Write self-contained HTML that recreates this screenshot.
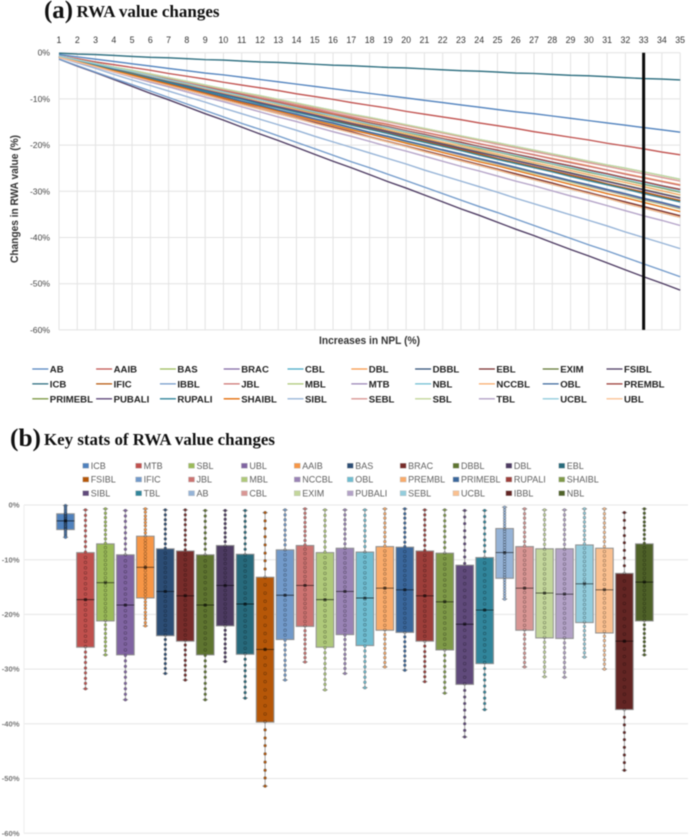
<!DOCTYPE html>
<html lang="en">
<head>
<meta charset="utf-8">
<title>RWA value changes</title>
<style>
html,body{margin:0;padding:0;background:#fff;width:690px;height:838px;overflow:hidden}
svg{display:block;filter:blur(0.5px)}
text{font-family:"Liberation Sans",sans-serif}
.ttl{font-family:"Liberation Serif",serif;font-weight:700;fill:#111}
</style>
</head>
<body>
<svg id="figure" xmlns="http://www.w3.org/2000/svg" width="690" height="838" viewBox="0 0 690 838">
  <text class="ttl" x="44" y="18" font-size="25" textLength="29" lengthAdjust="spacingAndGlyphs">(a)</text>
  <text class="ttl" x="76.5" y="17" font-size="17" textLength="143" lengthAdjust="spacingAndGlyphs">RWA value changes</text>
  <text class="ttl" x="10" y="446" font-size="25" textLength="31" lengthAdjust="spacingAndGlyphs">(b)</text>
  <text class="ttl" x="44" y="445" font-size="17" textLength="231" lengthAdjust="spacingAndGlyphs">Key stats of RWA value changes</text>
  <text transform="translate(18,199) rotate(-90)" text-anchor="middle" font-size="11" font-weight="700" fill="#333" textLength="128" lengthAdjust="spacingAndGlyphs">Changes in RWA value (%)</text>
  <text x="369.5" y="344" text-anchor="middle" font-size="11" font-weight="700" fill="#333" textLength="101" lengthAdjust="spacingAndGlyphs">Increases in NPL (%)</text>
  <g id="line-chart"></g>
  <g id="line-legend"></g>
  <g id="box-legend"></g>
  <g id="box-chart"></g>
</svg>
<script>
const npl = [1,2,3,4,5,6,7,8,9,10,11,12,13,14,15,16,17,18,19,20,21,22,23,24,25,26,27,28,29,30,31,32,33,34,35];
const lineTicks = [0,-10,-20,-30,-40,-50,-60];
const boxTicks = [0,-10,-20,-30,-40,-50,-60];

const AB = [-0.4,-0.9,-1.4,-1.9,-2.4,-2.9,-3.4,-3.9,-4.4,-4.8,-5.3,-5.8,-6.3,-6.8,-7.3,-7.8,-8.3,-8.8,-9.3,-9.8,-10.3,-10.8,-11.3,-11.8,-12.3,-12.8,-13.2,-13.7,-14.2,-14.7,-15.2,-15.7,-16.2,-16.7,-17.2];
const AAIB = [-0.7,-1.3,-2.0,-2.6,-3.2,-3.8,-4.5,-5.1,-5.7,-6.4,-7.0,-7.6,-8.2,-8.9,-9.5,-10.1,-10.8,-11.4,-12.0,-12.7,-13.3,-13.9,-14.5,-15.2,-15.8,-16.4,-17.1,-17.7,-18.3,-18.9,-19.6,-20.2,-20.8,-21.5,-22.1];
const BAS = [-0.9,-1.8,-2.7,-3.5,-4.4,-5.3,-6.2,-7.1,-7.9,-8.8,-9.7,-10.6,-11.5,-12.3,-13.2,-14.1,-15.0,-15.8,-16.7,-17.6,-18.5,-19.4,-20.2,-21.1,-22.0,-22.9,-23.8,-24.6,-25.5,-26.4,-27.3,-28.1,-29.0,-29.9,-30.8];
const BRAC = [-0.9,-1.8,-2.7,-3.6,-4.6,-5.5,-6.4,-7.3,-8.2,-9.1,-10.0,-11.0,-11.9,-12.8,-13.7,-14.6,-15.5,-16.5,-17.4,-18.3,-19.2,-20.1,-21.0,-21.9,-22.9,-23.8,-24.7,-25.6,-26.5,-27.4,-28.4,-29.3,-30.2,-31.1,-32.0];
const CBL = [-0.7,-1.6,-2.4,-3.3,-4.1,-5.0,-5.8,-6.7,-7.5,-8.4,-9.2,-10.1,-10.9,-11.8,-12.6,-13.5,-14.3,-15.2,-16.0,-16.9,-17.7,-18.6,-19.4,-20.3,-21.1,-22.0,-22.8,-23.7,-24.5,-25.4,-26.2,-27.1,-27.9,-28.8,-29.6];
const DBL = [-1.0,-1.8,-2.6,-3.4,-4.2,-5.1,-5.9,-6.7,-7.5,-8.3,-9.1,-9.9,-10.7,-11.6,-12.4,-13.2,-14.0,-14.8,-15.6,-16.4,-17.2,-18.1,-18.9,-19.7,-20.5,-21.3,-22.1,-22.9,-23.7,-24.5,-25.4,-26.2,-27.0,-27.8,-28.6];
const DBBL = [-1.0,-2.0,-3.0,-4.1,-5.1,-6.1,-7.1,-8.1,-9.1,-10.2,-11.2,-12.2,-13.2,-14.2,-15.3,-16.3,-17.3,-18.3,-19.3,-20.3,-21.4,-22.4,-23.4,-24.4,-25.4,-26.5,-27.5,-28.5,-29.5,-30.5,-31.5,-32.6,-33.6,-34.6,-35.6];
const EBL = [-1.0,-2.0,-3.0,-4.0,-5.0,-6.0,-7.1,-8.1,-9.1,-10.1,-11.1,-12.1,-13.1,-14.1,-15.1,-16.1,-17.1,-18.2,-19.2,-20.2,-21.2,-22.2,-23.2,-24.2,-25.2,-26.2,-27.2,-28.2,-29.3,-30.3,-31.3,-32.3,-33.3,-34.3,-35.3];
const EXIM = [-0.9,-1.8,-2.7,-3.6,-4.5,-5.4,-6.3,-7.2,-8.1,-9.0,-9.9,-10.8,-11.7,-12.6,-13.5,-14.4,-15.3,-16.1,-17.0,-17.9,-18.8,-19.7,-20.6,-21.5,-22.4,-23.3,-24.2,-25.1,-26.0,-26.9,-27.8,-28.7,-29.6,-30.5,-31.4];
const FSIBL = [-1.4,-2.9,-4.3,-5.8,-7.3,-8.8,-10.2,-11.7,-13.2,-14.6,-16.1,-17.6,-19.0,-20.5,-22.0,-23.5,-24.9,-26.4,-27.9,-29.3,-30.8,-32.3,-33.8,-35.2,-36.7,-38.2,-39.6,-41.1,-42.6,-44.0,-45.5,-47.0,-48.5,-49.9,-51.4];
const ICB = [-0.1,-0.3,-0.4,-0.6,-0.8,-1.0,-1.1,-1.3,-1.5,-1.6,-1.8,-2.0,-2.1,-2.3,-2.5,-2.7,-2.8,-3.0,-3.2,-3.3,-3.5,-3.7,-3.9,-4.0,-4.2,-4.4,-4.5,-4.7,-4.9,-5.0,-5.2,-5.4,-5.6,-5.7,-5.9];
const IFIC = [-0.9,-1.8,-2.7,-3.6,-4.6,-5.5,-6.4,-7.3,-8.2,-9.1,-10.0,-11.0,-11.9,-12.8,-13.7,-14.6,-15.5,-16.5,-17.4,-18.3,-19.2,-20.1,-21.0,-21.9,-22.9,-23.8,-24.7,-25.6,-26.5,-27.4,-28.4,-29.3,-30.2,-31.1,-32.0];
const IBBL = [-1.4,-2.8,-4.2,-5.6,-6.9,-8.3,-9.7,-11.1,-12.5,-13.9,-15.3,-16.6,-18.0,-19.4,-20.8,-22.2,-23.6,-24.9,-26.3,-27.7,-29.1,-30.5,-31.9,-33.3,-34.6,-36.0,-37.4,-38.8,-40.2,-41.6,-42.9,-44.3,-45.7,-47.1,-48.5];
const JBL = [-0.7,-1.5,-2.3,-3.2,-4.0,-4.8,-5.6,-6.5,-7.3,-8.1,-8.9,-9.8,-10.6,-11.4,-12.2,-13.1,-13.9,-14.7,-15.5,-16.4,-17.2,-18.0,-18.8,-19.7,-20.5,-21.3,-22.1,-23.0,-23.8,-24.6,-25.4,-26.3,-27.1,-27.9,-28.7];
const MBL = [-0.9,-1.9,-2.8,-3.8,-4.8,-5.7,-6.7,-7.7,-8.6,-9.6,-10.6,-11.5,-12.5,-13.5,-14.5,-15.4,-16.4,-17.4,-18.3,-19.3,-20.3,-21.2,-22.2,-23.2,-24.1,-25.1,-26.1,-27.0,-28.0,-29.0,-29.9,-30.9,-31.9,-32.8,-33.8];
const MTB = [-0.9,-1.9,-2.8,-3.8,-4.7,-5.7,-6.7,-7.6,-8.6,-9.6,-10.5,-11.5,-12.4,-13.4,-14.4,-15.3,-16.3,-17.3,-18.2,-19.2,-20.1,-21.1,-22.1,-23.0,-24.0,-24.9,-25.9,-26.9,-27.8,-28.8,-29.8,-30.7,-31.7,-32.6,-33.6];
const NBL = [-0.7,-1.5,-2.3,-3.1,-3.8,-4.6,-5.4,-6.2,-7.0,-7.8,-8.6,-9.3,-10.1,-10.9,-11.7,-12.5,-13.3,-14.0,-14.8,-15.6,-16.4,-17.2,-18.0,-18.8,-19.5,-20.3,-21.1,-21.9,-22.7,-23.5,-24.3,-25.0,-25.8,-26.6,-27.4];
const NCCBL = [-0.9,-1.8,-2.7,-3.5,-4.4,-5.3,-6.2,-7.1,-7.9,-8.8,-9.7,-10.6,-11.5,-12.3,-13.2,-14.1,-15.0,-15.8,-16.7,-17.6,-18.5,-19.4,-20.2,-21.1,-22.0,-22.9,-23.8,-24.6,-25.5,-26.4,-27.3,-28.1,-29.0,-29.9,-30.8];
const OBL = [-0.9,-1.9,-2.8,-3.8,-4.7,-5.7,-6.6,-7.6,-8.6,-9.5,-10.5,-11.4,-12.4,-13.3,-14.3,-15.2,-16.2,-17.2,-18.1,-19.1,-20.0,-21.0,-21.9,-22.9,-23.8,-24.8,-25.8,-26.7,-27.7,-28.6,-29.6,-30.5,-31.5,-32.4,-33.4];
const PREMBL = [-0.7,-1.6,-2.4,-3.3,-4.1,-5.0,-5.8,-6.7,-7.5,-8.4,-9.2,-10.1,-10.9,-11.8,-12.6,-13.5,-14.3,-15.2,-16.0,-16.9,-17.7,-18.6,-19.4,-20.3,-21.1,-22.0,-22.8,-23.7,-24.5,-25.4,-26.2,-27.1,-27.9,-28.8,-29.6];
const PRIMEBL = [-0.7,-1.6,-2.4,-3.3,-4.2,-5.0,-5.9,-6.8,-7.6,-8.5,-9.4,-10.2,-11.1,-12.0,-12.9,-13.7,-14.6,-15.5,-16.3,-17.2,-18.1,-18.9,-19.8,-20.7,-21.5,-22.4,-23.3,-24.1,-25.0,-25.9,-26.7,-27.6,-28.5,-29.3,-30.2];
const PUBALI = [-0.9,-1.8,-2.7,-3.6,-4.5,-5.4,-6.3,-7.2,-8.1,-9.0,-9.9,-10.8,-11.7,-12.6,-13.5,-14.4,-15.3,-16.2,-17.1,-18.0,-18.9,-19.8,-20.7,-21.6,-22.5,-23.4,-24.3,-25.2,-26.1,-27.0,-27.9,-28.8,-29.7,-30.6,-31.5];
const RUPALI = [-0.9,-1.8,-2.7,-3.7,-4.6,-5.5,-6.4,-7.4,-8.3,-9.2,-10.1,-11.1,-12.0,-12.9,-13.8,-14.8,-15.7,-16.6,-17.5,-18.5,-19.4,-20.3,-21.2,-22.2,-23.1,-24.0,-24.9,-25.8,-26.8,-27.7,-28.6,-29.5,-30.5,-31.4,-32.3];
const SHAIBL = [-0.9,-1.9,-2.9,-3.9,-4.8,-5.8,-6.8,-7.8,-8.8,-9.8,-10.8,-11.7,-12.7,-13.7,-14.7,-15.7,-16.7,-17.6,-18.6,-19.6,-20.6,-21.6,-22.6,-23.6,-24.5,-25.5,-26.5,-27.5,-28.5,-29.5,-30.5,-31.4,-32.4,-33.4,-34.4];
const SIBL = [-1.0,-2.2,-3.4,-4.7,-5.9,-7.1,-8.3,-9.5,-10.7,-12.0,-13.2,-14.4,-15.6,-16.8,-18.1,-19.3,-20.5,-21.7,-22.9,-24.1,-25.4,-26.6,-27.8,-29.0,-30.2,-31.5,-32.7,-33.9,-35.1,-36.3,-37.5,-38.8,-40.0,-41.2,-42.4];
const SEBL = [-0.7,-1.5,-2.3,-3.1,-3.9,-4.7,-5.5,-6.3,-7.1,-7.9,-8.7,-9.5,-10.3,-11.1,-11.9,-12.7,-13.5,-14.2,-15.0,-15.8,-16.6,-17.4,-18.2,-19.0,-19.8,-20.6,-21.4,-22.2,-23.0,-23.8,-24.6,-25.4,-26.2,-27.0,-27.8];
const SBL = [-0.7,-1.5,-2.3,-3.1,-3.8,-4.6,-5.4,-6.2,-7.0,-7.8,-8.6,-9.3,-10.1,-10.9,-11.7,-12.5,-13.3,-14.0,-14.8,-15.6,-16.4,-17.2,-18.0,-18.8,-19.5,-20.3,-21.1,-21.9,-22.7,-23.5,-24.3,-25.0,-25.8,-26.6,-27.4];
const TBL = [-1.0,-2.1,-3.1,-4.2,-5.3,-6.4,-7.4,-8.5,-9.6,-10.6,-11.7,-12.8,-13.9,-14.9,-16.0,-17.1,-18.1,-19.2,-20.3,-21.3,-22.4,-23.5,-24.6,-25.6,-26.7,-27.8,-28.8,-29.9,-31.0,-32.0,-33.1,-34.2,-35.3,-36.3,-37.4];
const UCBL = [-0.7,-1.6,-2.4,-3.3,-4.1,-5.0,-5.9,-6.7,-7.6,-8.5,-9.3,-10.2,-11.0,-11.9,-12.8,-13.6,-14.5,-15.4,-16.2,-17.1,-17.9,-18.8,-19.7,-20.5,-21.4,-22.2,-23.1,-24.0,-24.8,-25.7,-26.6,-27.4,-28.3,-29.1,-30.0];
const UBL = [-1.0,-2.0,-3.0,-4.1,-5.1,-6.1,-7.1,-8.1,-9.1,-10.2,-11.2,-12.2,-13.2,-14.2,-15.3,-16.3,-17.3,-18.3,-19.3,-20.3,-21.4,-22.4,-23.4,-24.4,-25.4,-26.5,-27.5,-28.5,-29.5,-30.5,-31.5,-32.6,-33.6,-34.6,-35.6];

const lineBanks = ["AB","AAIB","BAS","BRAC","CBL","DBL","DBBL","EBL","EXIM","FSIBL","ICB","IFIC","IBBL","JBL","MBL","MTB","NBL","NCCBL","OBL","PREMBL","PRIMEBL","PUBALI","RUPALI","SHAIBL","SIBL","SEBL","SBL","TBL","UCBL","UBL"];
const lineSeries = [AB,AAIB,BAS,BRAC,CBL,DBL,DBBL,EBL,EXIM,FSIBL,ICB,IFIC,IBBL,JBL,MBL,MTB,NBL,NCCBL,OBL,PREMBL,PRIMEBL,PUBALI,RUPALI,SHAIBL,SIBL,SEBL,SBL,TBL,UCBL,UBL];

const boxBanks = ["ICB","MTB","SBL","UBL","AAIB","BAS","BRAC","DBBL","DBL","EBL","FSIBL","IFIC","JBL","MBL","NCCBL","OBL","PREMBL","PRIMEBL","RUPALI","SHAIBL","SIBL","TBL","AB","CBL","EXIM","PUBALI","SEBL","UCBL","IBBL","NBL"];
const boxSeries = [ICB,MTB,SBL,UBL,AAIB,BAS,BRAC,DBBL,DBL,EBL,FSIBL,IFIC,JBL,MBL,NCCBL,OBL,PREMBL,PRIMEBL,RUPALI,SHAIBL,SIBL,TBL,AB,CBL,EXIM,PUBALI,SEBL,UCBL,IBBL,NBL];
const boxUpper = [-1.6,-8.7,-7.1,-9.1,-5.7,-8.0,-8.4,-9.1,-7.4,-9.0,-13.2,-8.2,-7.4,-8.7,-7.9,-8.6,-7.6,-7.7,-8.4,-8.8,-11.0,-9.6,-4.3,-7.6,-8.0,-8.0,-7.3,-7.9,-12.5,-7.1];
const boxMedian = [-2.9,-17.3,-14.2,-18.3,-11.4,-15.8,-16.6,-18.3,-14.7,-18.1,-26.4,-16.5,-14.7,-17.3,-15.8,-17.0,-15.2,-15.5,-16.6,-17.7,-21.8,-19.2,-8.7,-15.2,-16.1,-16.3,-14.4,-15.5,-24.9,-14.1];
const boxLower = [-4.5,-26.0,-21.2,-27.4,-17.0,-23.9,-24.9,-27.4,-22.1,-27.3,-39.7,-24.6,-22.2,-26.0,-23.7,-25.7,-22.9,-23.3,-24.9,-26.5,-32.8,-29.0,-13.4,-22.9,-24.3,-24.4,-21.5,-23.4,-37.4,-21.2];

const lineColors = ["#4f81bd","#c0504d","#9bbb59","#8064a2","#4bacc6","#f79646","#2c4d75","#772c2a","#5f7530","#4d3b62","#276a7c","#b65708","#729aca","#cd7371","#afc97a","#9983b5","#6fbdd1","#f9ab6b","#3a679c","#9d3e3a","#7f9a48","#604a7b","#31859b","#e36c09","#95b3d7","#d99694","#c3d69b","#b3a2c7","#93cddd","#fac090"];
const boxColors = ["#4f81bd","#c0504d","#9bbb59","#8064a2","#f79646","#2c4d75","#772c2a","#5f7530","#4d3b62","#276a7c","#b65708","#729aca","#cd7371","#afc97a","#9983b5","#6fbdd1","#f9ab6b","#3a679c","#9d3e3a","#7f9a48","#604a7b","#31859b","#95b3d7","#d99694","#c3d69b","#b3a2c7","#93cddd","#fac090","#632523","#4f6228"];

const NS = "http://www.w3.org/2000/svg";
function mk(parent, tag, attrs, txt) {
  const el = document.createElementNS(NS, tag);
  for (const k in attrs) el.setAttribute(k, attrs[k]);
  if (txt !== undefined) el.textContent = txt;
  parent.appendChild(el);
  return el;
}
function xLine(n) { return 59 + (n - 1) * 18.27; }
function yLine(v) { return 52.7 - v * 4.62; }
function xBox(i) { return 65.5 + i * 19.96; }
function yBox(v) { return 505 - v * 5.47; }

/* ---------- line chart ---------- */
const lc = document.getElementById("line-chart");
lineTicks.forEach(t => {
  const g = mk(lc, "line", {x1: xLine(1), x2: xLine(35), y1: yLine(t), y2: yLine(t), stroke: "#e3e3e3", "stroke-width": 1});
  
  
  const l = mk(lc, "text", {x: 50, y: yLine(t) + 3, "text-anchor": "end", "font-size": 8.6, fill: "#444"}, t + "%");
  
  
});
npl.forEach(n => {
  const g = mk(lc, "line", {x1: xLine(n), x2: xLine(n), y1: yLine(0), y2: yLine(-60), stroke: "#e3e3e3", "stroke-width": 1});
  
  
  const l = mk(lc, "text", {x: xLine(n), y: 43, "text-anchor": "middle", "font-size": 8.8, fill: "#333"}, n);
  
  
});
lineSeries.forEach((vals, s) => {
  const pts = vals.map((v, i) => xLine(npl[i]).toFixed(2) + "," + yLine(v).toFixed(2)).join(" ");
  const p = mk(lc, "polyline", {points: pts, fill: "none", stroke: lineColors[s], "stroke-width": 1.35});
  
  
});
const marker = mk(lc, "line", {x1: xLine(33), x2: xLine(33), y1: yLine(0), y2: yLine(-60), stroke: "#0a0a0a", "stroke-width": 3});



/* ---------- line legend ---------- */
const ll = document.getElementById("line-legend");
lineBanks.forEach((b, i) => {
  const col = i % 10, row = Math.floor(i / 10);
  const x = 32.3 + col * 63.8, y = 369 + row * 14.9;
  const sw = mk(ll, "line", {x1: x, x2: x + 16, y1: y, y2: y, stroke: lineColors[i], "stroke-width": 1.3});
  
  
  const t = mk(ll, "text", {x: x + 17.5, y: y + 3.5, "font-size": 9.6, "font-weight": 700, fill: "#222", textLength: b.length * 0, style: ""}, b);
  t.removeAttribute('textLength');
  
  
});

/* ---------- box legend ---------- */
const bl = document.getElementById("box-legend");
boxBanks.forEach((b, i) => {
  const col = i % 10, row = Math.floor(i / 10);
  const x = 82.7 + col * 52.9, y = 465.7 + row * 13.8;
  const sw = mk(bl, "rect", {x: x, y: y - 2.5, width: 6, height: 5, fill: boxColors[i], stroke: "#bbb", "stroke-width": 0.4});
  
  
  const t = mk(bl, "text", {x: x + 8, y: y + 3.1, "font-size": 9, fill: "#606060"}, b);
  
  
});

/* ---------- box chart ---------- */
const bc = document.getElementById("box-chart");
boxTicks.forEach(t => {
  const g = mk(bc, "line", {x1: 24, x2: 688, y1: yBox(t), y2: yBox(t), stroke: "#e6e6e6", "stroke-width": 1});
  
  
  const l = mk(bc, "text", {x: 19.5, y: yBox(t) + 2.6, "text-anchor": "end", "font-size": 7.6, "font-weight": 700, fill: "#777"}, t + "%");
  
  
});
const axisB = mk(bc, "line", {x1: 24, x2: 24, y1: yBox(0), y2: yBox(-60), stroke: "#eeeeee", "stroke-width": 1});



boxBanks.forEach((b, i) => {
  const vals = boxSeries[i], cx = xBox(i), w = 17.6;
  const hi = Math.max.apply(null, vals), lo = Math.min.apply(null, vals);
  const name = b.toLowerCase();
  const whisker = mk(bc, "line", {x1: cx, x2: cx, y1: yBox(hi), y2: yBox(lo), stroke: "#8a8a8a", "stroke-width": 0.8});
  
  
  [hi, lo].forEach(v => {
    const cap = mk(bc, "line", {x1: cx - 2.6, x2: cx + 2.6, y1: yBox(v), y2: yBox(v), stroke: "#777", "stroke-width": 0.8});
    
    
  });
  const box = mk(bc, "rect", {x: cx - w / 2, y: yBox(boxUpper[i]), width: w, height: yBox(boxLower[i]) - yBox(boxUpper[i]), fill: boxColors[i], stroke: "#8f8f8f", "stroke-width": 1});
  
  
  vals.forEach(v => {
    const inside = v <= boxUpper[i] && v >= boxLower[i];
    const dot = mk(bc, "circle", {cx: cx, cy: yBox(v), r: 1.35,
      fill: inside ? "none" : boxColors[i],
      stroke: inside ? "rgba(0,0,0,.38)" : "rgba(60,60,60,.5)", "stroke-width": 0.55});
    
    
  });
  const med = mk(bc, "line", {x1: cx - w / 2, x2: cx + w / 2, y1: yBox(boxMedian[i]), y2: yBox(boxMedian[i]), stroke: "rgba(0,0,0,.62)", "stroke-width": 0.9});
  
  
  const mean = mk(bc, "rect", {x: cx - 1.5, y: yBox(boxMedian[i]) - 1.5, width: 3, height: 3, fill: "rgba(0,0,0,.5)"});
  
  
});
</script>
</body>
</html>
